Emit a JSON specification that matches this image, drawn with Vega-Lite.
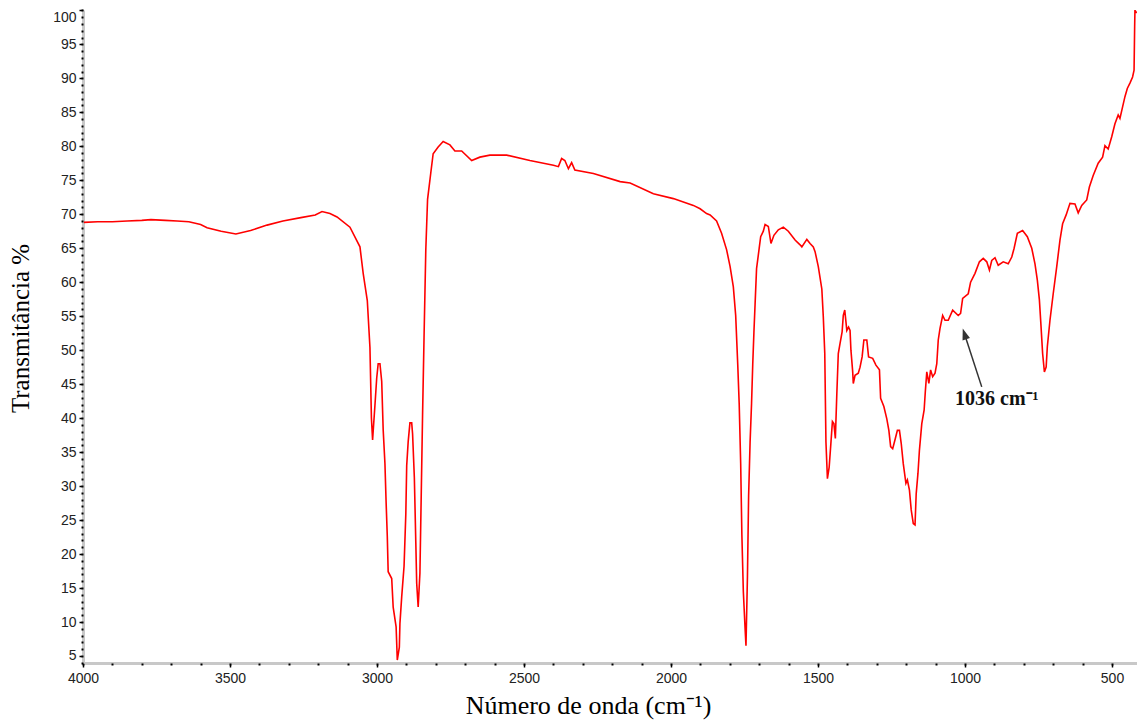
{
  "$schema": "https://vega.github.io/schema/vega-lite/v6.json",
  "autosize": {"type": "none"},
  "width": 1054,
  "height": 653,
  "padding": {"left": 83, "top": 10, "right": 0, "bottom": 63},
  "background": "white",
  "config": {"view": {"stroke": null}},
  "resolve": {"axis": {"x": "independent", "y": "independent"}},
  "layer": [
    {
      "data": {"values": [
        {"w":3997,"t":68.8},{"w":3950,"t":68.9},{"w":3900,"t":68.9},{"w":3850,"t":69.0},{"w":3800,"t":69.1},{"w":3769,"t":69.2},{"w":3720,"t":69.1},{"w":3680,"t":69.0},{"w":3640,"t":68.9},{"w":3600,"t":68.5},{"w":3578,"t":68.0},{"w":3530,"t":67.5},{"w":3480,"t":67.1},{"w":3430,"t":67.6},{"w":3374,"t":68.4},{"w":3320,"t":69.0},{"w":3259,"t":69.5},{"w":3210,"t":69.9},{"w":3187,"t":70.4},{"w":3160,"t":70.1},{"w":3136,"t":69.6},{"w":3092,"t":68.1},{"w":3058,"t":65.2},{"w":3047,"t":61.3},{"w":3033,"t":57.3},{"w":3024,"t":50.4},{"w":3019,"t":40.0},{"w":3015,"t":36.8},{"w":3007,"t":41.9},{"w":3001,"t":45.9},{"w":2996,"t":48.0},{"w":2990,"t":48.0},{"w":2984,"t":45.4},{"w":2979,"t":38.3},{"w":2973,"t":33.3},{"w":2969,"t":27.6},{"w":2965,"t":22.6},{"w":2962,"t":17.4},{"w":2950,"t":16.4},{"w":2945,"t":12.2},{"w":2935,"t":9.3},{"w":2931,"t":4.4},{"w":2924,"t":6.3},{"w":2922,"t":9.8},{"w":2916,"t":13.7},{"w":2908,"t":18.2},{"w":2902,"t":25.9},{"w":2899,"t":33.0},{"w":2894,"t":36.5},{"w":2888,"t":39.3},{"w":2882,"t":39.3},{"w":2879,"t":37.7},{"w":2873,"t":31.3},{"w":2868,"t":21.7},{"w":2865,"t":15.7},{"w":2860,"t":12.2},{"w":2854,"t":17.2},{"w":2850,"t":27.6},{"w":2845,"t":40.5},{"w":2840,"t":51.9},{"w":2834,"t":64.8},{"w":2828,"t":72.2},{"w":2817,"t":76.1},{"w":2809,"t":78.9},{"w":2792,"t":79.9},{"w":2775,"t":80.7},{"w":2752,"t":80.2},{"w":2735,"t":79.3},{"w":2712,"t":79.3},{"w":2678,"t":77.9},{"w":2650,"t":78.4},{"w":2616,"t":78.7},{"w":2559,"t":78.7},{"w":2480,"t":77.9},{"w":2400,"t":77.2},{"w":2383,"t":77.0},{"w":2372,"t":78.2},{"w":2361,"t":77.9},{"w":2349,"t":76.7},{"w":2338,"t":77.6},{"w":2327,"t":76.5},{"w":2264,"t":76.0},{"w":2173,"t":74.8},{"w":2139,"t":74.6},{"w":2060,"t":73.0},{"w":1992,"t":72.3},{"w":1924,"t":71.3},{"w":1901,"t":70.8},{"w":1879,"t":70.1},{"w":1867,"t":69.9},{"w":1845,"t":69.0},{"w":1828,"t":67.2},{"w":1811,"t":64.8},{"w":1799,"t":62.3},{"w":1788,"t":59.3},{"w":1780,"t":55.1},{"w":1773,"t":47.9},{"w":1768,"t":42.0},{"w":1763,"t":33.3},{"w":1759,"t":22.9},{"w":1754,"t":14.5},{"w":1748,"t":9.0},{"w":1745,"t":6.5},{"w":1740,"t":16.7},{"w":1736,"t":28.6},{"w":1731,"t":36.5},{"w":1726,"t":42.2},{"w":1722,"t":47.9},{"w":1718,"t":52.6},{"w":1714,"t":56.8},{"w":1709,"t":62.0},{"w":1700,"t":65.0},{"w":1695,"t":66.7},{"w":1686,"t":67.5},{"w":1680,"t":68.5},{"w":1669,"t":68.2},{"w":1660,"t":65.7},{"w":1650,"t":66.9},{"w":1635,"t":67.7},{"w":1618,"t":68.1},{"w":1601,"t":67.5},{"w":1578,"t":66.2},{"w":1561,"t":65.5},{"w":1555,"t":65.2},{"w":1538,"t":66.3},{"w":1527,"t":65.7},{"w":1516,"t":65.2},{"w":1510,"t":64.5},{"w":1499,"t":62.3},{"w":1487,"t":59.0},{"w":1482,"t":54.9},{"w":1477,"t":49.5},{"w":1473,"t":36.5},{"w":1468,"t":31.1},{"w":1462,"t":32.8},{"w":1457,"t":35.8},{"w":1451,"t":39.5},{"w":1446,"t":39.2},{"w":1441,"t":37.0},{"w":1436,"t":43.6},{"w":1431,"t":49.5},{"w":1425,"t":51.0},{"w":1418,"t":52.7},{"w":1414,"t":55.1},{"w":1409,"t":55.9},{"w":1402,"t":52.9},{"w":1396,"t":53.4},{"w":1391,"t":52.9},{"w":1388,"t":50.0},{"w":1382,"t":46.8},{"w":1380,"t":45.1},{"w":1374,"t":46.3},{"w":1363,"t":46.6},{"w":1357,"t":47.5},{"w":1350,"t":49.0},{"w":1344,"t":51.5},{"w":1334,"t":51.5},{"w":1328,"t":49.0},{"w":1314,"t":48.8},{"w":1303,"t":47.8},{"w":1291,"t":47.1},{"w":1287,"t":42.9},{"w":1276,"t":41.7},{"w":1266,"t":39.9},{"w":1259,"t":38.2},{"w":1253,"t":35.8},{"w":1246,"t":35.5},{"w":1237,"t":37.0},{"w":1230,"t":38.2},{"w":1223,"t":38.2},{"w":1217,"t":36.3},{"w":1210,"t":33.3},{"w":1201,"t":30.4},{"w":1196,"t":30.9},{"w":1189,"t":29.4},{"w":1183,"t":26.5},{"w":1176,"t":24.5},{"w":1170,"t":24.3},{"w":1166,"t":28.9},{"w":1160,"t":31.9},{"w":1155,"t":35.3},{"w":1147,"t":39.2},{"w":1139,"t":41.2},{"w":1135,"t":43.9},{"w":1130,"t":46.8},{"w":1123,"t":45.1},{"w":1117,"t":47.1},{"w":1110,"t":46.1},{"w":1102,"t":46.6},{"w":1096,"t":48.0},{"w":1091,"t":51.5},{"w":1085,"t":53.2},{"w":1076,"t":55.1},{"w":1068,"t":54.4},{"w":1057,"t":54.4},{"w":1042,"t":55.9},{"w":1023,"t":55.1},{"w":1015,"t":55.4},{"w":1008,"t":57.6},{"w":989,"t":58.3},{"w":981,"t":60.0},{"w":966,"t":61.3},{"w":951,"t":63.0},{"w":938,"t":63.5},{"w":926,"t":63.0},{"w":917,"t":61.8},{"w":909,"t":63.2},{"w":898,"t":63.6},{"w":887,"t":62.5},{"w":870,"t":63.0},{"w":853,"t":62.7},{"w":841,"t":63.7},{"w":833,"t":65.0},{"w":822,"t":67.2},{"w":804,"t":67.6},{"w":788,"t":66.7},{"w":773,"t":65.0},{"w":762,"t":62.7},{"w":754,"t":60.3},{"w":747,"t":57.4},{"w":742,"t":53.9},{"w":736,"t":49.5},{"w":730,"t":46.8},{"w":724,"t":47.5},{"w":720,"t":50.5},{"w":711,"t":54.4},{"w":700,"t":58.3},{"w":688,"t":62.3},{"w":677,"t":66.2},{"w":668,"t":68.6},{"w":656,"t":69.9},{"w":643,"t":71.6},{"w":626,"t":71.5},{"w":615,"t":70.2},{"w":603,"t":71.3},{"w":586,"t":72.1},{"w":577,"t":74.0},{"w":564,"t":75.7},{"w":547,"t":77.5},{"w":532,"t":78.4},{"w":524,"t":80.1},{"w":513,"t":79.6},{"w":501,"t":81.4},{"w":490,"t":83.3},{"w":479,"t":84.6},{"w":473,"t":84.1},{"w":464,"t":85.8},{"w":456,"t":87.3},{"w":448,"t":88.5},{"w":439,"t":89.3},{"w":430,"t":90.2},{"w":425,"t":91.2},{"w":423,"t":97.6},{"w":422,"t":100.0},{"w":416,"t":99.6}
      ]},
      "mark": {"type": "line", "color": "#ff0000", "strokeWidth": 1.6, "clip": true},
      "encoding": {
        "x": {
          "field": "w", "type": "quantitative",
          "scale": {"domain": [415, 4000], "reverse": true, "nice": false, "zero": false},
          "axis": {
            "orient": "bottom",
            "values": [500, 1000, 1500, 2000, 2500, 3000, 3500, 4000],
            "format": "d",
            "grid": false,
            "labelFlush": false,
            "domainColor": "#c8c8c8", "domainWidth": 3,
            "tickColor": "#000", "tickSize": 4, "tickWidth": 1.5,
            "labelFont": "Liberation Sans", "labelFontSize": 14, "labelColor": "#222", "labelPadding": 4,
            "title": "Número de onda (cm⁻¹)",
            "titleFont": "Liberation Serif", "titleFontSize": 26, "titleFontWeight": "normal", "titleColor": "#000",
            "titleX": 505, "titleY": 50, "titleBaseline": "alphabetic", "titleAlign": "center"
          }
        },
        "y": {
          "field": "t", "type": "quantitative",
          "scale": {"domain": [3.97, 100.05], "nice": false, "zero": false},
          "axis": {
            "orient": "left",
            "values": [5, 10, 15, 20, 25, 30, 35, 40, 45, 50, 55, 60, 65, 70, 75, 80, 85, 90, 95, 100],
            "grid": false,
            "domainColor": "#c8c8c8", "domainWidth": 3,
            "tickColor": "#000", "tickSize": 4, "tickWidth": 1.5,
            "labelFont": "Liberation Sans", "labelFontSize": 14, "labelColor": "#222", "labelPadding": 3,
            "labelFlush": 3,
            "title": "Transmitância %",
            "titleFont": "Liberation Serif", "titleFontSize": 25, "titleFontWeight": "normal", "titleColor": "#000",
            "titleX": -63, "titleY": 318, "titleAngle": -90, "titleBaseline": "middle", "titleAlign": "center"
          }
        }
      }
    },
    {
      "data": {"values": [{"w": 943.1, "t": 44.6, "w2": 1000.3, "t2": 52.2}]},
      "mark": {"type": "rule", "color": "#333333", "strokeWidth": 1.5},
      "encoding": {
        "x": {"field": "w", "type": "quantitative", "axis": {
          "orient": "bottom",
          "values": [500,600,700,800,900,1000,1100,1200,1300,1400,1500,1600,1700,1800,1900,2000,2100,2200,2300,2400,2500,2600,2700,2800,2900,3000,3100,3200,3300,3400,3500,3600,3700,3800,3900,4000],
          "labels": false, "domain": false, "grid": false, "title": null,
          "tickColor": "#000", "tickSize": 2, "tickWidth": 2
        }},
        "x2": {"field": "w2"},
        "y": {"field": "t", "type": "quantitative", "axis": {
          "orient": "left",
          "values": [4,5,6,7,8,9,10,11,12,13,14,15,16,17,18,19,20,21,22,23,24,25,26,27,28,29,30,31,32,33,34,35,36,37,38,39,40,41,42,43,44,45,46,47,48,49,50,51,52,53,54,55,56,57,58,59,60,61,62,63,64,65,66,67,68,69,70,71,72,73,74,75,76,77,78,79,80,81,82,83,84,85,86,87,88,89,90,91,92,93,94,95,96,97,98,99,100],
          "labels": false, "domain": false, "grid": false, "title": null,
          "tickColor": "#000", "tickSize": 2, "tickWidth": 2
        }},
        "y2": {"field": "t2"}
      }
    },
    {
      "data": {"values": [{"w": 1000.3, "t": 52.2}]},
      "mark": {"type": "point", "shape": "M0,-1L0.55,0.6L-0.55,0.6Z", "filled": true, "color": "#333333", "opacity": 1, "size": 200, "angle": 342},
      "encoding": {
        "x": {"field": "w", "type": "quantitative", "axis": null},
        "y": {"field": "t", "type": "quantitative", "axis": null}
      }
    },
    {
      "data": {"values": [{"w": 1034, "t": 41.9, "label": "1036 cm⁻¹"}]},
      "mark": {"type": "text", "font": "Liberation Serif", "fontSize": 20, "fontWeight": "bold", "color": "#111111", "align": "left", "baseline": "alphabetic"},
      "encoding": {
        "x": {"field": "w", "type": "quantitative", "axis": null},
        "y": {"field": "t", "type": "quantitative", "axis": null},
        "text": {"field": "label"}
      }
    }
  ]
}
